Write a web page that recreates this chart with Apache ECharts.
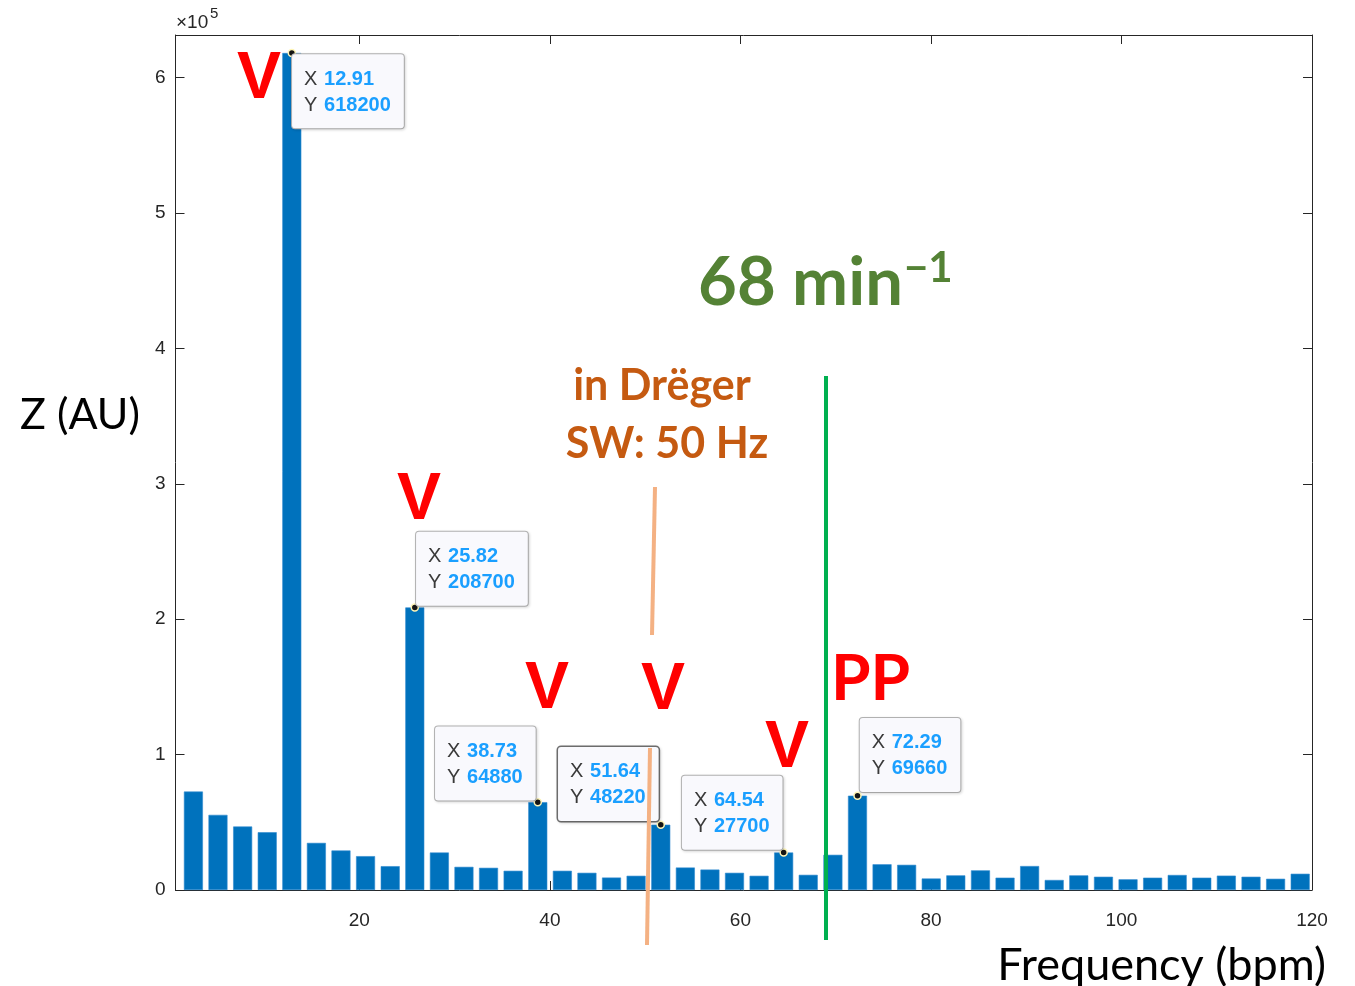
<!DOCTYPE html>
<html>
<head>
<meta charset="utf-8">
<script src="https://cdn.jsdelivr.net/npm/echarts@6/dist/echarts.min.js"></script>
<style>
html,body{margin:0;padding:0;background:#fff;}
#chart{width:1355px;height:986px;}
</style>
</head>
<body>
<div id="chart"></div>
<script>
// ---- data ----
const freqBpm = [2.58, 5.16, 7.75, 10.33, 12.91, 15.49, 18.07, 20.65, 23.24, 25.82,
  28.40, 30.98, 33.56, 36.14, 38.73, 41.31, 43.89, 46.47, 49.05, 51.64,
  54.22, 56.80, 59.38, 61.96, 64.54, 67.12, 69.71, 72.29, 74.87, 77.45,
  80.03, 82.61, 85.20, 87.78, 90.36, 92.94, 95.52, 98.11, 100.69, 103.27,
  105.85, 108.43, 111.01, 113.60, 116.18, 118.76];
const zValues = [72700, 55500, 46900, 42700, 618200, 34800, 29200, 25000, 17600, 208700,
  27700, 17100, 16400, 14200, 64880, 14200, 12700, 9200, 10500, 48220,
  16600, 15100, 12700, 10500, 27700, 11200, 26000, 69660, 19000, 18600,
  8500, 10800, 14500, 9100, 17700, 7400, 10800, 9800, 7900, 9100,
  11100, 9100, 10600, 9800, 8300, 12000];
const tipX = [12.91, 25.82, 38.73, 51.64, 64.54, 72.29];
const tipY = [618200, 208700, 64880, 48220, 27700, 69660];
const xTicks = [20, 40, 60, 80, 100, 120];
const yTicks = [0, 100000, 200000, 300000, 400000, 500000, 600000];

// ---- layout (label box offsets relative to the point, px) ----
const tipOffsets = [[1, 2], [2, -75], [-102, -75], [-102, -77], [-101, -76], [3, -77]];
const tipSelected = [false, false, false, true, false, false];

const SYM = 7;
const axisColor = '#262626';
const tickFont = 'Liberation Sans, Arial, sans-serif';
const annFont = 'Lato, Open Sans, sans-serif';

const chart = echarts.init(document.getElementById('chart'), null, {renderer: 'canvas'});

const tipData = tipX.map((x, i) => ({
  value: [x, tipY[i]],
  label: {
    position: [tipOffsets[i][0] + SYM / 2, tipOffsets[i][1] + SYM / 2],
    borderColor: tipSelected[i] ? '#6e6e6e' : '#b4b4b4',
    borderWidth: tipSelected[i] ? 1.5 : 1
  }
}));

function xAxisCfg(pos, showLabel) {
  return {
    type: 'value', position: pos, min: 0.7, max: 120,
    axisLine: {show: true, onZero: false, lineStyle: {color: axisColor, width: 1}},
    axisTick: {show: true, inside: true, length: 9, customValues: xTicks, lineStyle: {color: axisColor}},
    axisLabel: {show: showLabel, customValues: xTicks, color: axisColor, fontSize: 19, fontFamily: tickFont, margin: 21},
    splitLine: {show: false}
  };
}
function yAxisCfg(pos, showLabel) {
  return {
    type: 'value', position: pos, min: 0, max: 631500,
    axisLine: {show: true, onZero: false, lineStyle: {color: axisColor, width: 1}},
    axisTick: {show: true, inside: true, length: 9, customValues: yTicks, lineStyle: {color: axisColor}},
    axisLabel: {show: showLabel, customValues: yTicks, color: axisColor, fontSize: 19, fontFamily: tickFont, margin: 10,
      formatter: v => String(Math.round(v / 100000))},
    splitLine: {show: false}
  };
}

const option = {
  animation: false,
  backgroundColor: '#ffffff',
  grid: {left: 175.5, right: 43, top: 35, bottom: 96, containLabel: false},
  xAxis: [xAxisCfg('bottom', true), xAxisCfg('top', false)],
  yAxis: [yAxisCfg('left', true), yAxisCfg('right', false)],
  series: [
    {
      type: 'bar', xAxisIndex: 0, yAxisIndex: 0,
      data: freqBpm.map((f, i) => [f, zValues[i]]),
      barWidth: 19,
      itemStyle: {color: '#0072bd', borderColor: '#2f8ad0', borderWidth: 0.6},
      z: 2
    },
    {
      type: 'scatter', xAxisIndex: 0, yAxisIndex: 0,
      data: tipData,
      symbol: 'circle', symbolSize: SYM,
      itemStyle: {color: '#151515', borderColor: '#fff6b8', borderWidth: 1.5, opacity: 1},
      z: 5,
      label: {
        show: true,
        align: 'left', verticalAlign: 'top',
        backgroundColor: '#f9f9fd',
        borderRadius: 3,
        padding: [12, 13, 10, 12],
        shadowColor: 'rgba(0,0,0,0.12)', shadowBlur: 3, shadowOffsetX: 1, shadowOffsetY: 1,
        formatter: p => '{k|X}{v|' + p.value[0].toFixed(2) + '}\n{k|Y}{v|' + p.value[1] + '}',
        rich: {
          k: {color: '#3a3a3a', fontSize: 20, fontFamily: tickFont, lineHeight: 26, width: 20},
          v: {color: '#1a9fff', fontSize: 20, fontWeight: 'bold', fontFamily: tickFont, lineHeight: 26}
        }
      }
    }
  ],
  graphic: [
    // multiplier
    {type: 'text', left: 176, top: 13, z: 100, style: {text: '×10', font: '19px ' + tickFont, fill: axisColor}},
    {type: 'text', left: 210, top: 6, z: 100, style: {text: '5', font: '15px ' + tickFont, fill: axisColor}},
    // axis titles
    {type: 'text', x: 20, y: 415, z: 100, style: {text: 'Z (AU)', font: '43px ' + annFont, fill: '#000', textVerticalAlign: 'middle'}},
    {type: 'text', x: 1326, y: 965, z: 100, style: {text: 'Frequency (bpm)', font: '45px ' + annFont, fill: '#000', textAlign: 'right', textVerticalAlign: 'middle'}},
    // lines
    {type: 'line', z: 90, shape: {x1: 826, y1: 376, x2: 826, y2: 940}, style: {stroke: '#00b050', lineWidth: 4}},
    {type: 'line', z: 90, shape: {x1: 655, y1: 487, x2: 652, y2: 635}, style: {stroke: '#f4b183', lineWidth: 4}},
    {type: 'line', z: 90, shape: {x1: 650, y1: 748, x2: 647, y2: 945}, style: {stroke: '#f4b183', lineWidth: 4}},
    // red V / PP
    {type: 'text', x: 259, y: 80, z: 100, style: {text: 'V', font: 'bold 66px ' + tickFont, fill: '#ff0000', textAlign: 'center', textVerticalAlign: 'middle'}},
    {type: 'text', x: 419, y: 501, z: 100, style: {text: 'V', font: 'bold 66px ' + tickFont, fill: '#ff0000', textAlign: 'center', textVerticalAlign: 'middle'}},
    {type: 'text', x: 547, y: 690, z: 100, style: {text: 'V', font: 'bold 66px ' + tickFont, fill: '#ff0000', textAlign: 'center', textVerticalAlign: 'middle'}},
    {type: 'text', x: 663, y: 691, z: 100, style: {text: 'V', font: 'bold 66px ' + tickFont, fill: '#ff0000', textAlign: 'center', textVerticalAlign: 'middle'}},
    {type: 'text', x: 787, y: 749, z: 100, style: {text: 'V', font: 'bold 66px ' + tickFont, fill: '#ff0000', textAlign: 'center', textVerticalAlign: 'middle'}},
    {type: 'text', x: 831, y: 679, z: 100, style: {text: 'PP', font: 'bold 64px ' + annFont, fill: '#ff0000', textAlign: 'left', textVerticalAlign: 'middle'}},
    // green annotation
    {type: 'text', x: 903, y: 283, z: 100, style: {text: '68 min', font: 'bold 67px ' + annFont, fill: '#548235', textAlign: 'right', textVerticalAlign: 'middle'}},
    {type: 'text', x: 904, y: 268, z: 100, style: {text: '−1', font: 'bold 42px ' + annFont, fill: '#548235', textAlign: 'left', textVerticalAlign: 'middle'}},
    // orange annotation
    {type: 'text', x: 662, y: 386, z: 100, style: {text: 'in Drëger', font: 'bold 43px ' + annFont, fill: '#c55a11', textAlign: 'center', textVerticalAlign: 'middle'}},
    {type: 'text', x: 667, y: 444, z: 100, style: {text: 'SW: 50 Hz', font: 'bold 43px ' + annFont, fill: '#c55a11', textAlign: 'center', textVerticalAlign: 'middle'}}
  ]
};
chart.setOption(option);
</script>
</body>
</html>
